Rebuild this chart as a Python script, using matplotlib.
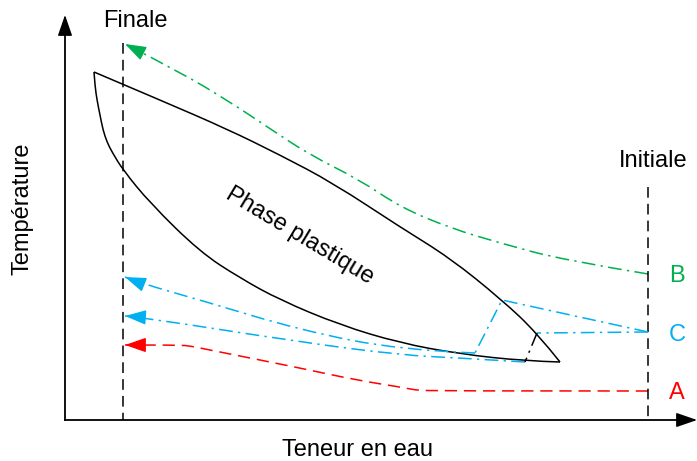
import numpy as np
import matplotlib.pyplot as plt
from matplotlib.path import Path
from matplotlib.patches import PathPatch

plt.rcParams['font.family'] = ['Liberation Sans', 'DejaVu Sans']

GREEN = '#00b050'
CYAN = '#00b0f0'
RED = '#ff0000'

# plastic phase region (pixel coords of the schematic, y grows downward)
upper_x = [94, 160, 227, 280, 333, 400, 450, 502, 537, 560]
upper_y = [72, 100, 129, 155, 183, 227, 258, 300, 333, 362]
lower_x = [94, 95, 97, 100, 103, 107, 112, 123, 150, 200, 240, 280, 340, 400, 460, 525, 560]
lower_y = [72, 86, 100, 115, 130, 142, 152, 170, 203, 252, 278, 300, 325, 343, 354, 361, 362]

# trajectories, from initial state to final state
path_b_x = [648, 563, 500, 450, 400, 360, 310, 272, 230, 180, 125]
path_b_y = [274, 260, 243, 228, 207, 180, 155, 130, 102, 72, 44]

path_c1a_x = [648, 502, 475]
path_c1a_y = [332, 300, 353]
path_c1b_x = [475, 400, 300, 200, 140, 125]
path_c1b_y = [353, 350, 330, 300, 283, 277]

path_c2a_x = [648, 537]
path_c2a_y = [332, 333]
path_c2b_x = [537, 525]
path_c2b_y = [333, 362]
path_c2c_x = [525, 460, 400, 300, 140, 125]
path_c2c_y = [362, 358, 355, 342, 317, 316]

path_a_x = [648, 430, 415, 400, 356, 300, 210, 190, 180, 125]
path_a_y = [391, 391, 390, 387, 380, 368, 350, 346, 345, 345]

x_final = 123
x_init = 648
x_origin, y_origin = 65, 420

fig = plt.figure(figsize=(6.97, 4.61), dpi=100)
ax = fig.add_axes([0, 0, 1, 1])
ax.set_xlim(0, 697)
ax.set_ylim(461, 0)
ax.axis('off')


def smooth(ax, xs, ys, **kw):
    # quadratic bezier chain: read points are control points, curve runs through midpoints
    pts = np.column_stack([xs, ys]).astype(float)
    verts = [pts[0]]
    codes = [Path.MOVETO]
    for i in range(1, len(pts) - 1):
        end = pts[i + 1] if i == len(pts) - 2 else (pts[i] + pts[i + 1]) / 2
        verts += [pts[i], end]
        codes += [Path.CURVE3, Path.CURVE3]
    if len(pts) == 2:
        verts.append(pts[1])
        codes.append(Path.LINETO)
    ax.add_patch(PathPatch(Path(verts, codes), facecolor='none', **kw))


def arrow_head(ax, xs, ys, color, length=18):
    # filled head pointing along the last segment of the path
    tip = np.array([xs[-1], ys[-1]], float)
    prev = np.array([xs[-2], ys[-2]], float)
    d = tip - prev
    base = tip - d / np.hypot(*d) * length
    ax.annotate('', xy=tip, xytext=base,
                arrowprops=dict(arrowstyle='-|>,head_length=13,head_width=4.5',
                                mutation_scale=1, color=color, lw=1,
                                shrinkA=0, shrinkB=0))


# axes
ax.plot([x_origin, x_origin], [y_origin, 30], color='k', lw=1.3)
ax.plot([x_origin, 682], [y_origin, y_origin], color='k', lw=1.3)
arrow_head(ax, [x_origin, x_origin], [y_origin, 15], 'k')
arrow_head(ax, [x_origin, 697], [y_origin, y_origin], 'k')

# final / initial vertical lines
ax.plot([x_final, x_final], [43, y_origin], color='k', lw=1.1, dashes=(7, 4))
ax.plot([x_init, x_init], [187, y_origin], color='k', lw=1.1, dashes=(7, 4))

# plastic phase outline
smooth(ax, upper_x, upper_y, edgecolor='k', lw=1.1)
smooth(ax, lower_x, lower_y, edgecolor='k', lw=1.1)

dashdot = (0, (9, 3.5, 1.5, 3.5))
smooth(ax, path_b_x, path_b_y, edgecolor=GREEN, lw=1.1, linestyle=dashdot)
arrow_head(ax, path_b_x, path_b_y, GREEN)

ax.plot(path_c1a_x, path_c1a_y, color=CYAN, lw=1.1, dashes=dashdot[1])
smooth(ax, path_c1b_x, path_c1b_y, edgecolor=CYAN, lw=1.1, linestyle=dashdot)
arrow_head(ax, path_c1b_x, path_c1b_y, CYAN)

ax.plot(path_c2a_x, path_c2a_y, color=CYAN, lw=1.1, dashes=dashdot[1])
ax.plot(path_c2b_x, path_c2b_y, color='k', lw=1.1, dashes=dashdot[1])
smooth(ax, path_c2c_x, path_c2c_y, edgecolor=CYAN, lw=1.1, linestyle=dashdot)
arrow_head(ax, path_c2c_x, path_c2c_y, CYAN)

smooth(ax, path_a_x, path_a_y, edgecolor=RED, lw=1.1, linestyle=(0, (8, 4.5)))
arrow_head(ax, path_a_x, path_a_y, RED)

fs = 17
ax.text(135, 27, 'Finale', fontsize=fs, ha='center', va='baseline')
ax.text(653, 167, 'Initiale', fontsize=fs, ha='center', va='baseline')
ax.text(677, 282, 'B', fontsize=fs, color=GREEN, ha='center', va='baseline')
ax.text(677, 341, 'C', fontsize=fs, color=CYAN, ha='center', va='baseline')
ax.text(677, 399, 'A', fontsize=fs, color=RED, ha='center', va='baseline')
ax.text(357, 456, 'Teneur en eau', fontsize=fs, ha='center', va='baseline')
ax.text(23, 209, 'Température', fontsize=fs, rotation=90, ha='center', va='center')
ax.text(300, 236, 'Phase plastique', fontsize=fs, rotation=-31,
        ha='center', va='center', rotation_mode='anchor')

fig.savefig('out.png', dpi=100)
